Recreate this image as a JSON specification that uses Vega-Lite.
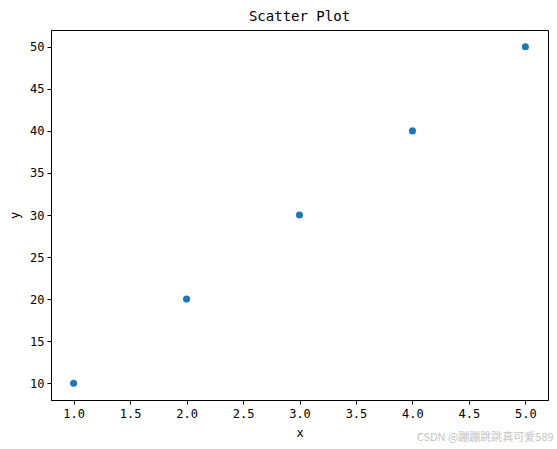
{
  "$schema": "https://vega.github.io/schema/vega-lite/v6.json",
  "autosize": "none",
  "width": 497,
  "height": 370,
  "padding": {"left": 51, "top": 30, "right": 9, "bottom": 49},
  "background": "white",
  "config": {
    "view": {"stroke": "black", "strokeWidth": 1},
    "font": "DejaVu Sans Mono",
    "axis": {
      "grid": false,
      "domainColor": "black",
      "tickColor": "black",
      "tickSize": 4,
      "labelColor": "black",
      "titleColor": "black",
      "labelFontSize": 12,
      "titleFontSize": 12,
      "titleFontWeight": "normal",
      "labelFont": "DejaVu Sans Mono",
      "titleFont": "DejaVu Sans Mono"
    },
    "title": {"font": "DejaVu Sans Mono", "fontSize": 14, "fontWeight": "normal", "color": "black", "offset": 6}
  },
  "title": "Scatter Plot",
  "data": {"values": [
    {"x": 1, "y": 10},
    {"x": 2, "y": 20},
    {"x": 3, "y": 30},
    {"x": 4, "y": 40},
    {"x": 5, "y": 50}
  ]},
  "layer": [
    {
      "mark": {"type": "circle", "size": 50, "color": "#1f77b4", "opacity": 1},
      "encoding": {
        "x": {"field": "x", "type": "quantitative", "scale": {"domain": [0.8, 5.2], "nice": false, "zero": false},
              "axis": {"values": [1, 1.5, 2, 2.5, 3, 3.5, 4, 4.5, 5], "format": ".1f", "title": "x", "titlePadding": 8, "labelPadding": 4}},
        "y": {"field": "y", "type": "quantitative", "scale": {"domain": [8, 52], "nice": false, "zero": false},
              "axis": {"values": [10, 15, 20, 25, 30, 35, 40, 45, 50], "title": "y", "titlePadding": 8, "labelPadding": 3}}
      }
    },
    {
      "data": {"values": [{"wx": 5.25, "wy": 3.5, "t": "CSDN @蹦蹦跳跳真可爱589"}]},
      "mark": {"type": "text", "align": "right", "baseline": "middle", "fontSize": 11, "color": "#c4c4c4", "font": "Noto Sans CJK SC", "clip": false},
      "encoding": {
        "x": {"field": "wx", "type": "quantitative"},
        "y": {"field": "wy", "type": "quantitative"},
        "text": {"field": "t"}
      }
    }
  ]
}
